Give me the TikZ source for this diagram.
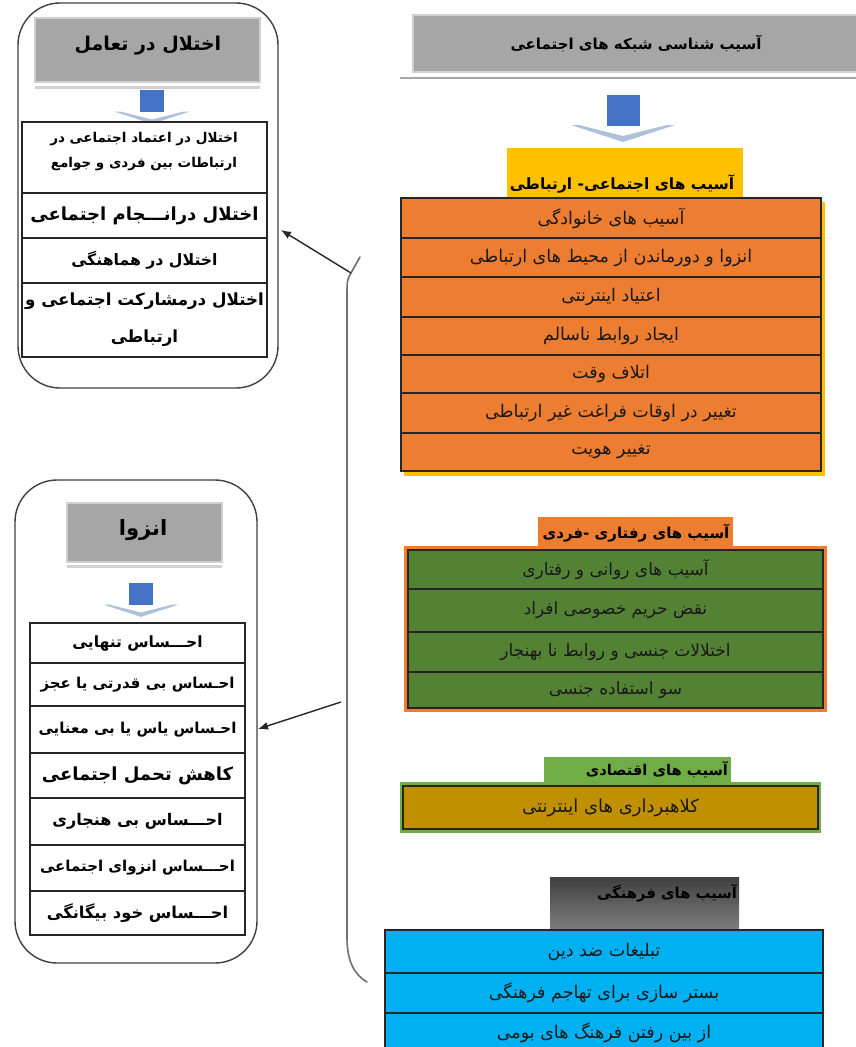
\documentclass[tikz,border=0pt]{standalone}
\usepackage{fontspec}
\newfontfamily\arabicfont[Script=Arabic]{DejaVu Sans}
\TeXXeTstate=1
\usetikzlibrary{arrows.meta,calc}
\newcommand{\ArTxt}[1]{\beginR #1\endR}
\newcommand{\mkcell}[7]{\node[#2, minimum width={#5-#3}, minimum height={#6-#4}] (#1) at ({(#3+#5)/2},{(#4+#6)/2}) {#7};}
\definecolor{hgray}{HTML}{A6A6A6}
\definecolor{hgrayedge}{HTML}{CFCFCF}
\definecolor{ored}{HTML}{ED7D31}
\definecolor{yel}{HTML}{FFC000}
\definecolor{dgreen}{HTML}{548235}
\definecolor{lgreen}{HTML}{70AD47}
\definecolor{brown}{HTML}{BF9000}
\definecolor{cyanb}{HTML}{00B0F0}
\definecolor{iconblue}{HTML}{4472C4}
\definecolor{chev}{HTML}{AFC0DA}
\definecolor{bracegray}{HTML}{707070}
\begin{document}
\begin{tikzpicture}[x=1pt,y=-1pt,
  every node/.style={inner sep=0pt, outer sep=0pt},
  artext/.style={font=\arabicfont\fontsize{#1}{20}\selectfont, text=black!90},
  arbold/.style={font=\arabicfont\bfseries\fontsize{#1}{25}\selectfont, text=black},
  orangerow/.style={draw=black!85, line width=1.6pt, fill=ored, artext=17.5},
  greenrow/.style={draw=black!85, line width=1.6pt, fill=dgreen, artext=17},
  cyanrow/.style={draw=black!85, line width=1.6pt, fill=cyanb, artext=17.5},
  whiterow/.style={draw=black!85, line width=1.2pt, fill=white, align=center},
  grayhead/.style={fill=hgray, draw=hgrayedge, line width=2pt},
  roundbox/.style={draw=black!75, line width=1.4pt, rounded corners=42pt},
  bracestyle/.style={draw=bracegray, line width=1.6pt, line cap=round},
  connector/.style={draw=black!85, line width=1.4pt, -{Latex[length=10pt,width=8pt]}},
  downicon/.pic={
    \fill[chev] (-52,30) -- (0,47) -- (52,30) -- (44,30) -- (0,41) -- (-44,30) -- cycle;
    \fill[iconblue] (-16.5,0) rectangle (16.5,31);
  }]
\useasboundingbox (0,0) rectangle (856,1047);
\fill[white] (0,0) rectangle (856,1047);

% ---------------- right column ----------------
\draw[gray!70, line width=2pt] (400,78) -- (856,78);
\mkcell{top}{grayhead}{413}{15}{860}{72}{}
\node[arbold=15] (toptxt) at (636,44) {\ArTxt{آسیب شناسی شبکه های اجتماعی}};
\pic at (623,95) {downicon};

\fill[yel] (507,148) rectangle (743,199);
\node[arbold=15.5] (yeltxt) at (622,184) {\ArTxt{آسیب های اجتماعی- ارتباطی}};
\fill[yel] (404,202) rectangle (825,476);
\mkcell{o1}{orangerow}{401}{198}{821}{238}{\ArTxt{آسیب های خانوادگی}}
\mkcell{o2}{orangerow}{401}{238}{821}{277}{\ArTxt{انزوا و دورماندن از محیط های ارتباطی}}
\mkcell{o3}{orangerow}{401}{277}{821}{317}{\ArTxt{اعتیاد اینترنتی}}
\mkcell{o4}{orangerow}{401}{317}{821}{355}{\ArTxt{ایجاد روابط ناسالم}}
\mkcell{o5}{orangerow}{401}{355}{821}{393}{\ArTxt{اتلاف وقت}}
\mkcell{o6}{orangerow}{401}{393}{821}{433}{\ArTxt{تغییر در اوقات فراغت غیر ارتباطی}}
\mkcell{o7}{orangerow}{401}{433}{821}{471}{\ArTxt{تغییر هویت}}

\fill[ored] (538,517) rectangle (733,548);
\node[arbold=15] (grtxt) at (636,533) {\ArTxt{آسیب های رفتاری -فردی}};
\fill[ored] (404,546) rectangle (827,712);
\mkcell{g1}{greenrow}{408}{550}{823}{589}{\ArTxt{آسیب های روانی و رفتاری}}
\mkcell{g2}{greenrow}{408}{589}{823}{632}{\ArTxt{نقض حریم خصوصی افراد}}
\mkcell{g3}{greenrow}{408}{632}{823}{672}{\ArTxt{اختلالات جنسی و روابط نا بهنجار}}
\mkcell{g4}{greenrow}{408}{672}{823}{708}{\ArTxt{سو استفاده جنسی}}

\fill[lgreen] (544,757) rectangle (731,784);
\node[arbold=14.7, anchor=east] (ectxt) at (728,770) {\ArTxt{آسیب های اقتصادی}};
\fill[lgreen] (400,782) rectangle (821,833);
\mkcell{e1}{orangerow, fill=brown, artext=18}{403}{786}{818}{829}{\ArTxt{کلاهبرداری های اینترنتی}}

\shade[top color=black!75, bottom color=black!50] (550,877) rectangle (739,931);
\node[arbold=14.8, anchor=east] (cutxt) at (737,893) {\ArTxt{آسیب های فرهنگی}};
\mkcell{c1}{cyanrow}{385}{930}{823}{973}{\ArTxt{تبلیغات ضد دین}}
\mkcell{c2}{cyanrow}{385}{973}{823}{1013}{\ArTxt{بستر سازی برای تهاجم فرهنگی}}
\mkcell{c3}{cyanrow}{385}{1013}{823}{1052}{\ArTxt{از بین رفتن فرهنگ های بومی}}

% ---------------- left box 1 ----------------
\mkcell{L1}{roundbox}{18}{3}{278}{388}{}
\draw[gray!35, line width=3pt] (35,87) -- (260,87);
\mkcell{L1h}{grayhead}{35}{18}{260}{82}{}
\node[arbold=19] (L1ht) at (148,46) {\ArTxt{اختلال در تعامل}};
\pic[scale=0.72] at (152,90) {downicon};
\mkcell{a1}{whiterow}{22}{122}{267}{193}{}
\node[arbold=13.5, align=center] (a1t) at (144,152) {\ArTxt{اختلال در اعتماد اجتماعی در}\\\ArTxt{ارتباطات بین فردی و جوامع}};
\mkcell{a2}{whiterow, arbold=18}{22}{193}{267}{238}{\ArTxt{اختلال درانـــجام اجتماعی}}
\mkcell{a3}{whiterow, arbold=15.7}{22}{238}{267}{283}{\ArTxt{اختلال در هماهنگی}}
\mkcell{a4}{whiterow, arbold=16.7}{22}{283}{267}{357}{\ArTxt{اختلال درمشارکت اجتماعی و}\\[12pt]\ArTxt{ارتباطی}}

% ---------------- left box 2 ----------------
\mkcell{L2}{roundbox}{15}{480}{257}{963}{}
\draw[gray!35, line width=3pt] (67,566) -- (222,566);
\mkcell{L2h}{grayhead}{67}{503}{222}{562}{}
\node[arbold=21] (L2ht) at (143,530) {\ArTxt{انزوا}};
\pic[scale=0.72] at (141,583) {downicon};
\mkcell{b1}{whiterow, arbold=15.5}{30}{623}{245}{663}{\ArTxt{احـــساس تنهایی}}
\mkcell{b2}{whiterow, arbold=15}{30}{663}{245}{706}{\ArTxt{احـساس بی قدرتی یا عجز}}
\mkcell{b3}{whiterow, arbold=15}{30}{706}{245}{753}{\ArTxt{احـساس یاس یا بی معنایی}}
\mkcell{b4}{whiterow, arbold=18}{30}{753}{245}{798}{\ArTxt{کاهش تحمل اجتماعی}}
\mkcell{b5}{whiterow, arbold=16}{30}{798}{245}{845}{\ArTxt{احـــساس بی هنجاری}}
\mkcell{b6}{whiterow, arbold=15}{30}{845}{245}{891}{\ArTxt{احـــساس انزوای اجتماعی}}
\mkcell{b7}{whiterow, arbold=16.3}{30}{891}{245}{935}{\ArTxt{احـــساس خود بیگانگی}}

% ---------------- brace and connectors ----------------
\coordinate (btop) at (351,273);
\coordinate (bmid) at (341,702);
\coordinate (t1) at (281,230);
\coordinate (t2) at (258,729);
\draw[bracestyle] (360,257) -- (btop) .. controls (347,280) .. (347,298) -- (347,938) .. controls (347,962) and (355,975) .. (367,982);
\draw[connector] (btop) -- (t1);
\draw[connector] (bmid) -- (t2);
\end{tikzpicture}
\end{document}
